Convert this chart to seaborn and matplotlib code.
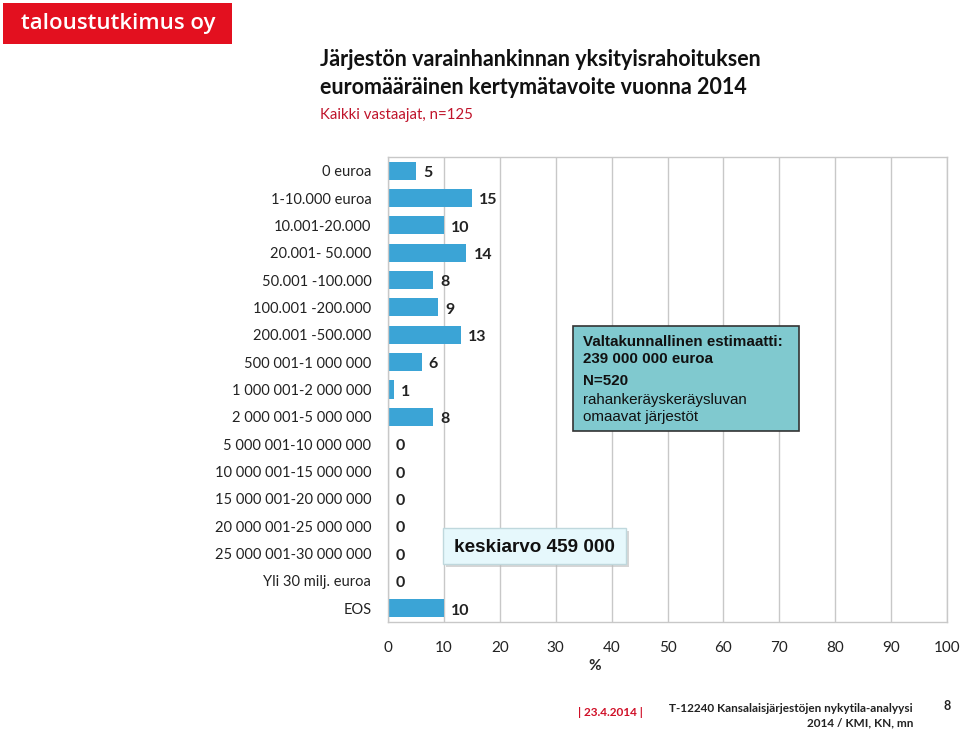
import matplotlib
matplotlib.use("Agg")
import matplotlib.pyplot as plt
import seaborn as sns
import pandas as pd
from matplotlib.patches import Rectangle

categories = ["0 euroa", "1-10.000 euroa", "10.001-20.000", "20.001- 50.000",
              "50.001 -100.000", "100.001 -200.000", "200.001 -500.000",
              "500 001-1 000 000", "1 000 001-2 000 000", "2 000 001-5 000 000",
              "5 000 001-10 000 000", "10 000 001-15 000 000", "15 000 001-20 000 000",
              "20 000 001-25 000 000", "25 000 001-30 000 000", "Yli 30 milj. euroa", "EOS"]
values = [5, 15, 10, 14, 8, 9, 13, 6, 1, 8, 0, 0, 0, 0, 0, 0, 10]
xticks = [0, 10, 20, 30, 40, 50, 60, 70, 80, 90, 100]

sns.set_theme(style="white")
plt.rcParams['font.family'] = ['Lato', 'DejaVu Sans']

df = pd.DataFrame({"cat": categories, "val": values})

fig = plt.figure(figsize=(9.6, 7.29), dpi=100)
ax = fig.add_axes([388/960, 1-622/729, (947-388)/960, (622-157)/729])
sns.barplot(data=df, y="cat", x="val", orient="h", color="#3BA4D6",
            saturation=1, width=0.66, ax=ax, edgecolor="none")
ax.set_xlim(0, 100)
ax.set_ylim(len(categories)-0.5, -0.5)
ax.set_xticks(xticks)
ax.set_xticklabels([str(t) for t in xticks], fontsize=11, color="#222222")
ax.tick_params(axis='x', length=0, pad=14)
ax.tick_params(axis='y', length=0, pad=12, labelsize=10.5, labelcolor="#222222")
ax.set_ylabel("")
ax.set_xlabel("%", fontsize=11, fontweight="bold", labelpad=2)
ax.xaxis.set_label_coords(0.37, -0.08)
ax.grid(axis='x', color="#C8C8C8", linewidth=1)
ax.set_axisbelow(True)
for s in ax.spines.values():
    s.set_color("#C8C8C8")
    s.set_linewidth(1)

for i, v in enumerate(values):
    ax.text(v + 1.3, i + 0.08, str(v), va="center", ha="left", fontsize=11.5,
            fontweight="bold", color="#222222")

# header
fig.patches.append(Rectangle((3/960, 1-44/729), 229/960, 41/729,
                             transform=fig.transFigure, facecolor="#E3101F",
                             edgecolor="none"))
fig.text(118/960, 1-23/729, "taloustutkimus oy", color="white", fontsize=16,
         ha="center", va="center", fontweight="semibold",
         family=['Open Sans', 'DejaVu Sans'])
fig.text(320/960, 1-60/729, "Järjestön varainhankinnan yksityisrahoituksen",
         fontsize=15.5, fontweight="bold", ha="left", va="center", color="#111111")
fig.text(320/960, 1-87/729, "euromääräinen kertymätavoite vuonna 2014",
         fontsize=15.5, fontweight="bold", ha="left", va="center", color="#111111")
fig.text(320/960, 1-115/729, "Kaikki vastaajat, n=125", fontsize=10.8,
         ha="left", va="center", color="#C0142B")

# estimate box
fig.patches.append(Rectangle((573/960, 1-431/729), 226/960, 105/729,
                             transform=fig.transFigure, facecolor="#80C9CF",
                             edgecolor="#333333", linewidth=1.2, zorder=5))
af = ['Liberation Sans', 'DejaVu Sans']
fig.text(583/960, 1-342/729, "Valtakunnallinen estimaatti:", fontsize=10.9,
         fontweight="bold", family=af, va="center", zorder=6, color="#111111")
fig.text(583/960, 1-359/729, "239 000 000 euroa", fontsize=10.9,
         fontweight="bold", family=af, va="center", zorder=6, color="#111111")
fig.text(583/960, 1-381/729, "N=520", fontsize=10.9,
         fontweight="bold", family=af, va="center", zorder=6, color="#111111")
fig.text(583/960, 1-400/729, "rahankeräyskeräysluvan", fontsize=10.9,
         family=af, va="center", zorder=6, color="#111111")
fig.text(583/960, 1-417/729, "omaavat järjestöt", fontsize=10.9,
         family=af, va="center", zorder=6, color="#111111")

# mean box with shadow
fig.patches.append(Rectangle((446/960, 1-567/729), 183/960, 36/729,
                             transform=fig.transFigure, facecolor="#BBBBBB",
                             edgecolor="none", alpha=0.6, zorder=4))
fig.patches.append(Rectangle((443/960, 1-564/729), 183/960, 36/729,
                             transform=fig.transFigure, facecolor="#E6F8FC",
                             edgecolor="#BFD8DD", linewidth=1, zorder=5))
fig.text(534/960, 1-547/729, "keskiarvo 459 000", fontsize=13.6,
         fontweight="bold", family=af, ha="center", va="center", zorder=6,
         color="#111111")

# footer
fig.text(610/960, 1-712/729, "| 23.4.2014 |", fontsize=8.5, color="#D01028",
         ha="center", va="center", fontweight="bold")
fig.text(913/960, 1-709/729, "T-12240 Kansalaisjärjestöjen nykytila-analyysi",
         fontsize=8.5, ha="right", va="center", fontweight="bold", color="#222222")
fig.text(913/960, 1-723/729, "2014 / KMI, KN, mn",
         fontsize=8.5, ha="right", va="center", fontweight="bold", color="#222222")
fig.text(947/960, 1-706/729, "8", fontsize=9, ha="center", va="center",
         fontweight="bold", color="#222222")

fig.savefig("out.png", dpi=100)
